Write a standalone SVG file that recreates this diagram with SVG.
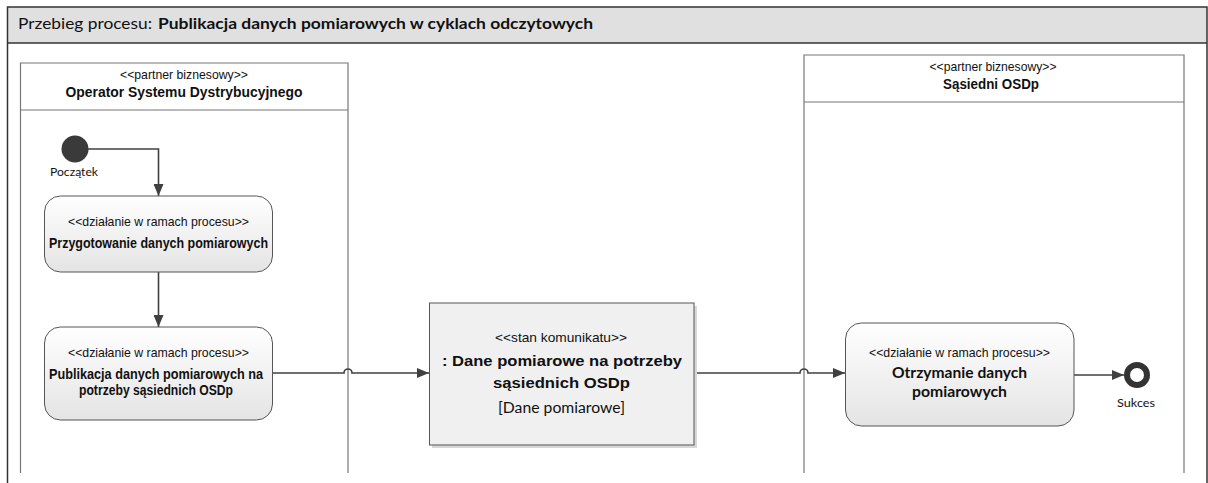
<svg xmlns="http://www.w3.org/2000/svg" width="1208" height="483" viewBox="0 0 1208 483">
  <defs>
    <linearGradient id="actGrad" x1="0" y1="0" x2="0" y2="1">
      <stop offset="0" stop-color="#ffffff"/>
      <stop offset="1" stop-color="#e4e4e4"/>
    </linearGradient>
    <marker id="arrow" viewBox="0 0 12 10" refX="12" refY="5" markerWidth="12" markerHeight="10" markerUnits="userSpaceOnUse" orient="auto">
      <path d="M0,0 L12,5 L0,10 z" fill="#404040"/>
    </marker>
    <style>
      .frame { fill: none; stroke: #333333; stroke-width: 1.5; }
      .lane { fill: none; stroke: #777777; stroke-width: 1.2; }
      .act { fill: url(#actGrad); stroke: #555555; stroke-width: 1; }
      .msg { fill: #f0f0f0; stroke: #555555; stroke-width: 1; }
      .conn { fill: none; stroke: #404040; stroke-width: 1.6; }
      .ster { font-family: "Liberation Sans Narrow", "Liberation Sans", Arial, sans-serif; font-size: 13.5px; fill: #111111; text-anchor: middle; }
      .bold { font-family: "Liberation Sans Narrow", "Liberation Sans", Arial, sans-serif; font-size: 14.5px; font-weight: bold; fill: #111111; text-anchor: middle; }
      .cal { font-family: Lato, "Liberation Sans", sans-serif; fill: #111111; text-anchor: middle; }
    </style>
  </defs>

  <!-- outer frame -->
  <g id="frame">
    <rect x="7.5" y="7" width="1199.5" height="36" fill="#e0e0e0" stroke="none"/>
    <path class="frame" d="M7.5,483 V7 H1207 V483"/>
    <line class="frame" x1="7.5" y1="43" x2="1207" y2="43"/>
    <text y="29" font-family="Lato, 'Liberation Sans', sans-serif" font-size="15px" fill="#111111"><tspan x="18" textLength="134" lengthAdjust="spacingAndGlyphs">Przebieg procesu:</tspan><tspan x="158" font-weight="bold" textLength="435" lengthAdjust="spacingAndGlyphs">Publikacja danych pomiarowych w cyklach odczytowych</tspan></text>
  </g>

  <!-- lanes -->
  <g id="lane-osd">
    <path class="lane" d="M20.5,473 V63 H348 V473"/>
    <line class="lane" x1="20.5" y1="110" x2="348" y2="110"/>
    <text class="ster" x="184" y="79" textLength="128" lengthAdjust="spacingAndGlyphs">&lt;&lt;partner biznesowy&gt;&gt;</text>
    <text class="bold" x="184" y="97" font-size="15.5px" textLength="237" lengthAdjust="spacingAndGlyphs">Operator Systemu Dystrybucyjnego</text>
  </g>
  <g id="lane-osdp">
    <path class="lane" d="M804,473 V55 H1184 V473"/>
    <line class="lane" x1="804" y1="102" x2="1184" y2="102"/>
    <text class="ster" x="993" y="71" textLength="127" lengthAdjust="spacingAndGlyphs">&lt;&lt;partner biznesowy&gt;&gt;</text>
    <text class="bold" x="991" y="89" font-size="15.5px" textLength="96" lengthAdjust="spacingAndGlyphs">Sąsiedni OSDp</text>
  </g>

  <!-- connectors -->
  <g id="connectors">
    <path class="conn" d="M88,149 H158.5 V196" marker-end="url(#arrow)"/>
    <path class="conn" d="M158.5,272 V327" marker-end="url(#arrow)"/>
    <path class="conn" d="M273,373 H344 A4,4 0 0 1 352,373 H429" marker-end="url(#arrow)"/>
    <path class="conn" d="M694,373 H800 A4,4 0 0 1 808,373 H845" marker-end="url(#arrow)"/>
    <path class="conn" d="M1074,375 H1124" marker-end="url(#arrow)"/>
  </g>

  <!-- start node -->
  <g id="start">
    <circle cx="75" cy="149" r="13.5" fill="#3a3a3a"/>
    <text class="cal" x="74" y="176" font-size="12px" textLength="48" lengthAdjust="spacingAndGlyphs">Początek</text>
  </g>

  <!-- activity 1 -->
  <g id="act-przygotowanie">
    <rect class="act" x="44.5" y="196" width="228" height="76" rx="16" ry="16"/>
    <text class="ster" x="158.5" y="226" textLength="181" lengthAdjust="spacingAndGlyphs">&lt;&lt;działanie w ramach procesu&gt;&gt;</text>
    <text class="bold" x="158.5" y="248" textLength="219" lengthAdjust="spacingAndGlyphs">Przygotowanie danych pomiarowych</text>
  </g>

  <!-- activity 2 -->
  <g id="act-publikacja">
    <rect class="act" x="44.5" y="327" width="228" height="93" rx="16" ry="16"/>
    <text class="ster" x="158.5" y="357" textLength="181" lengthAdjust="spacingAndGlyphs">&lt;&lt;działanie w ramach procesu&gt;&gt;</text>
    <text class="bold" x="156" y="379" textLength="214" lengthAdjust="spacingAndGlyphs">Publikacja danych pomiarowych na</text>
    <text class="bold" x="156" y="395" textLength="154" lengthAdjust="spacingAndGlyphs">potrzeby sąsiednich OSDp</text>
  </g>

  <!-- message state -->
  <g id="msg-dane">
    <rect x="432" y="306" width="265" height="142" fill="#d8d8d8"/>
    <rect class="msg" x="429.5" y="303" width="264.5" height="142"/>
    <text class="ster" x="561" y="342" font-size="14px" textLength="132" lengthAdjust="spacingAndGlyphs">&lt;&lt;stan komunikatu&gt;&gt;</text>
    <text class="bold" x="562" y="366" font-size="19px" textLength="240" lengthAdjust="spacingAndGlyphs">: Dane pomiarowe na potrzeby</text>
    <text class="bold" x="561.5" y="388" font-size="19px" textLength="137" lengthAdjust="spacingAndGlyphs">sąsiednich OSDp</text>
    <text class="cal" x="561.5" y="413" font-size="14.5px" textLength="127" lengthAdjust="spacingAndGlyphs">[Dane pomiarowe]</text>
  </g>

  <!-- activity 3 -->
  <g id="act-otrzymanie">
    <rect class="act" x="845.5" y="323" width="228.5" height="103" rx="16" ry="16"/>
    <text class="ster" x="959.5" y="357" textLength="181" lengthAdjust="spacingAndGlyphs">&lt;&lt;działanie w ramach procesu&gt;&gt;</text>
    <text class="cal" x="959.5" y="378" font-size="16px" font-weight="bold" textLength="135" lengthAdjust="spacingAndGlyphs">Otrzymanie danych</text>
    <text class="cal" x="959.5" y="397" font-size="16px" font-weight="bold" textLength="95" lengthAdjust="spacingAndGlyphs">pomiarowych</text>
  </g>

  <!-- end node -->
  <g id="end">
    <circle cx="1137" cy="375" r="10" fill="#ffffff" stroke="#333333" stroke-width="6"/>
    <text class="cal" x="1136" y="407" font-size="12px" textLength="38" lengthAdjust="spacingAndGlyphs">Sukces</text>
  </g>
</svg>
